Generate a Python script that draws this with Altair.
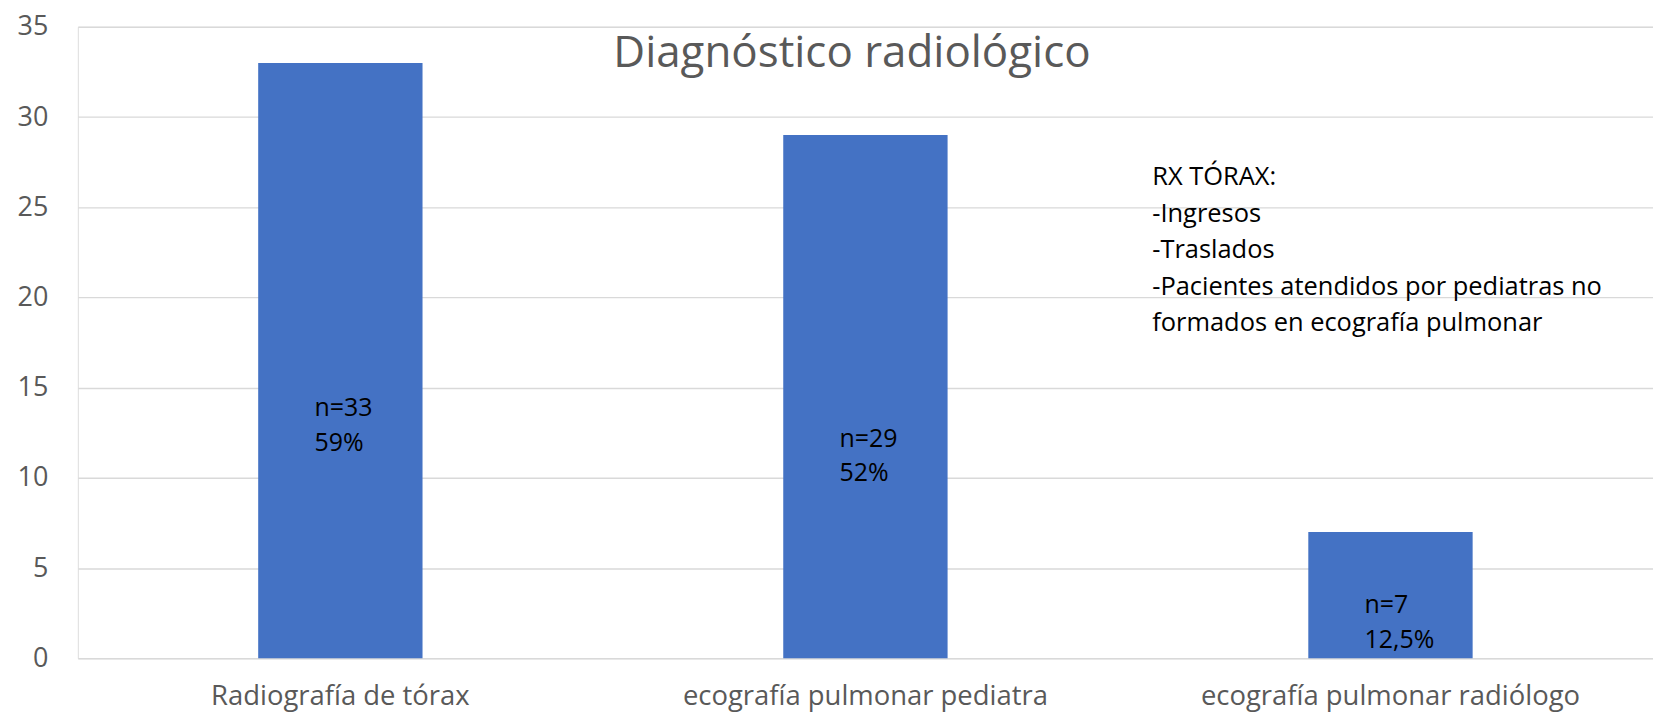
import altair as alt
import pandas as pd

categories = ["Radiografía de tórax", "ecografía pulmonar pediatra", "ecografía pulmonar radiólogo"]
values = [33, 29, 7]
bar_labels = ["n=33\n59%", "n=29\n52%", "n=7\n12,5%"]
title_text = "Diagnóstico radiológico"
note_text = "RX TÓRAX:\n-Ingresos\n-Traslados\n-Pacientes atendidos por pediatras no\nformados en ecografía pulmonar"
y_ticks = [0, 5, 10, 15, 20, 25, 30, 35]

df = pd.DataFrame({"cat": categories, "value": values, "label": bar_labels})

FONT = "Open Sans"
W, H = 1579, 633

x = alt.X("cat:N", sort=categories, title=None,
          scale=alt.Scale(paddingInner=0.687, paddingOuter=0.3435),
          axis=alt.Axis(labelAngle=0, labelFont=FONT, labelFontSize=27.5, labelColor="#595959",
                        labelPadding=24, ticks=False, tickSize=0, domain=False, grid=False,
                        labelLimit=600))
y = alt.Y("value:Q", title=None,
          scale=alt.Scale(domain=[0, 35], nice=False),
          axis=alt.Axis(values=y_ticks, labelFont=FONT, labelFontSize=27, labelColor="#595959",
                        labelPadding=30, ticks=False, tickSize=0, domain=False,
                        gridColor="#D9D9D9", gridWidth=1.4))

bars = alt.Chart(df).mark_bar(color="#4472C4").encode(x=x, y=y)

labels = alt.Chart(df).transform_calculate(
    ypos="datum.value * 0.42"
).mark_text(align="left", baseline="middle", dx=-26, font=FONT, fontSize=25,
            color="#000000", lineBreak="\n", lineHeight=35).encode(
    x=alt.X("cat:N", sort=categories),
    y=alt.Y("ypos:Q"),
    text="label:N",
)

title = alt.Chart(pd.DataFrame({"t": [title_text]})).mark_text(
    align="center", baseline="middle", font=FONT, fontSize=44, color="#595959"
).encode(x=alt.value(776), y=alt.value(27), text="t:N")

note = alt.Chart(pd.DataFrame({"t": [note_text]})).mark_text(
    align="left", baseline="middle", font=FONT, fontSize=25.5, color="#000000",
    lineBreak="\n", lineHeight=36.5
).encode(x=alt.value(1077), y=alt.value(151), text="t:N")

chart = alt.layer(bars, labels, title, note).properties(
    width=W, height=H,
    padding={"left": 9, "top": 4, "right": 0, "bottom": 7},
).configure_view(stroke=None).configure(background="white")

chart.save("out.html", embed_options={"renderer": "svg", "actions": False})
